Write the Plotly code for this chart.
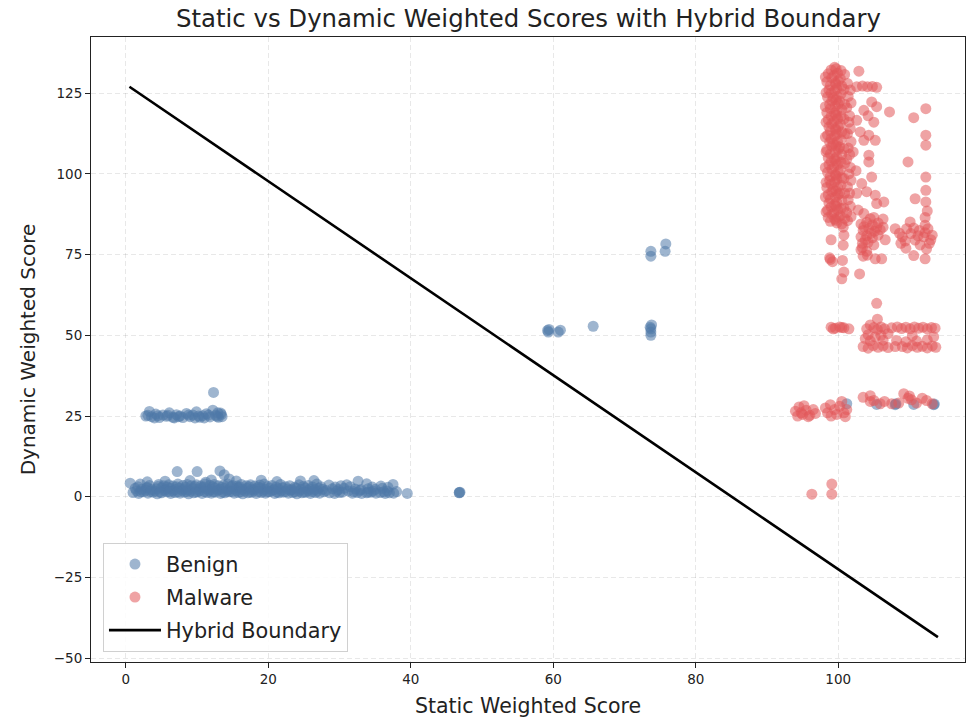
import plotly.graph_objects as go

# ---------------- data ----------------
benign_low = [
    (1.0,1.3),(1.8,1.0),(2.5,1.5),(3.1,1.1),(3.8,1.4),(4.4,0.9),(5.0,1.2),(5.7,1.5),(6.3,1.0),(6.9,1.3),
    (7.6,1.1),(8.2,1.4),(8.8,0.9),(9.5,1.2),(10.1,1.5),(10.7,1.0),(11.4,1.3),(12.0,1.1),(12.6,1.4),(13.3,1.0),
    (13.9,1.2),(14.5,1.5),(15.2,1.1),(15.8,1.3),(16.4,0.9),(17.1,1.2),(17.7,1.4),(18.3,1.0),(19.0,1.3),(19.6,1.1),
    (20.2,1.5),(20.9,1.0),(21.5,1.2),(22.1,1.4),(22.8,1.1),(23.4,1.3),(24.0,0.9),(24.7,1.2),(25.3,1.4),(25.9,1.0),
    (26.6,1.3),(27.2,1.1),(28.6,1.2),(29.3,1.0),(30.0,1.3),(31.8,1.1),(32.5,1.3),(33.1,1.0),(33.8,1.2),(34.4,1.4),
    (35.1,1.1),(35.7,1.3),(36.4,1.0),(37.0,1.2),(37.6,1.1),(39.5,1.0),(46.8,1.3),(46.8,1.2),(46.9,1.4),
    (1.3,2.6),(2.2,2.3),(2.9,2.7),(3.6,2.2),(4.3,2.5),(5.0,2.8),(5.6,2.3),(6.2,2.6),(6.9,2.2),(7.5,2.7),
    (8.1,2.4),(8.7,2.1),(9.4,2.6),(10.0,2.3),(10.6,2.8),(11.3,2.4),(11.9,2.2),(12.5,2.7),(13.2,2.3),(13.8,2.6),
    (14.4,2.2),(15.1,2.5),(15.7,2.8),(16.3,2.3),(17.0,2.6),(17.6,2.2),(18.2,2.5),(18.9,2.7),(19.5,2.3),(20.1,2.6),
    (20.8,2.2),(21.4,2.5),(22.0,2.8),(22.7,2.4),(23.3,2.2),(23.9,2.6),(24.6,2.3),(25.2,2.7),(25.8,2.4),(26.5,2.2),
    (27.1,2.6),(27.6,2.3),(29.0,2.5),(29.8,2.2),(30.6,2.6),(32.2,2.4),(33.0,2.2),(34.0,2.5),(35.0,2.3),(36.0,2.6),
    (0.6,4.2),(2.0,3.9),(3.3,3.5),(4.6,3.8),(5.3,3.4),(6.0,3.7),(6.6,3.3),(7.3,3.9),(8.0,3.5),(8.6,3.8),
    (9.2,3.4),(9.9,3.7),(10.5,3.3),(11.1,3.9),(11.8,3.5),(12.4,3.8),(13.0,3.4),(13.7,3.6),(14.3,3.9),(15.0,3.5),
    (15.6,3.3),(16.2,3.8),(16.9,3.4),(17.5,3.7),(18.1,3.3),(18.8,3.6),(19.4,3.9),(20.5,3.5),(21.7,3.8),(23.0,3.4),
    (24.3,3.7),(25.6,3.5),(26.8,3.9),(28.5,3.6),(30.2,3.4),(31.0,3.7),(33.8,4.0),(37.5,3.8),(35.8,3.3),
    (3.0,4.6),(5.5,4.8),(7.2,7.8),(10.0,7.8),(13.2,8.0),(13.8,6.8),(9.0,5.0),(12.0,5.2),(15.5,4.9),(19.0,5.1),
    (21.2,4.7),(24.5,4.9),(26.4,5.0),(32.6,4.8),(14.5,5.5),(11.2,4.5),
    (1.5,1.8),(2.8,2.0),(4.1,1.7),(5.4,1.9),(6.6,1.8),(7.9,2.0),(9.1,1.7),(10.4,1.9),(11.7,1.8),(12.9,2.0),
    (14.2,1.7),(15.5,1.9),(16.7,1.8),(18.0,2.0),(19.3,1.7),(20.5,1.9),(21.8,1.8),(23.1,2.0),(24.3,1.7),(25.6,1.9),
    (26.9,1.8),(28.1,1.9),(29.6,1.7),(31.2,1.8),(32.8,1.9),(34.7,1.7),(36.7,1.8),(38.0,1.6),
    (1.7,3.1),(3.0,2.9),(4.5,3.2),(5.8,3.0),(7.1,3.1),(8.4,2.9),(9.7,3.2),(11.0,3.0),(12.2,3.1),(13.5,2.9),
    (14.8,3.2),(16.0,3.0),(17.3,3.1),(18.6,2.9),(19.9,3.2),(21.1,3.0),(22.4,3.1),(23.7,2.9),(24.9,3.2),(26.2,3.0),
    (27.4,3.1),(29.4,3.0),(31.5,3.1),(34.6,3.0),(36.8,2.9),
    (2.1,1.5),(3.5,1.6),(4.8,1.4),(6.1,1.6),(7.3,1.5),(8.5,1.6),(9.8,1.4),(11.0,1.6),(12.3,1.5),(13.6,1.4),
    (14.9,1.6),(16.1,1.5),(17.4,1.4),(18.6,1.6),(19.9,1.5),(21.2,1.4),(22.4,1.6),(23.7,1.5),(25.0,1.4),(26.2,1.6),
    (27.8,1.5),(30.4,1.4),(32.0,1.6),(34.0,1.4),(36.2,1.5),
]
benign_band25 = [
    (2.8,25.0),(3.3,26.4),(3.6,24.8),(4.2,25.6),(4.7,24.5),(5.2,25.3),(5.7,24.9),(6.1,26.0),(6.6,24.6),(7.1,25.4),
    (7.6,25.0),(8.0,24.5),(8.5,25.8),(9.0,24.8),(9.4,25.3),(9.9,26.3),(10.4,24.6),(10.8,25.1),(11.3,25.7),(11.8,24.7),
    (12.2,26.8),(12.6,25.2),(13.0,24.6),(13.4,25.5),(13.5,24.8),(12.9,26.0),(12.3,32.3),(4.0,24.4),(6.8,24.4),
    (9.7,24.4),(11.0,24.4),(3.1,25.2),(4.5,25.1),(5.9,25.2),(7.4,24.8),(8.8,25.3),(10.2,25.0),(11.6,25.3),
    (12.8,24.9),(13.3,25.9),
]
benign_mid = [
    (59.2,51.5),(59.3,51.0),(59.4,51.8),(60.7,51.0),(61.0,51.6),(65.6,52.8),(73.7,50.0),(73.7,51.0),(73.7,52.0),
    (73.8,53.2),(73.6,52.5),(73.7,74.5),(73.7,76.0),(75.7,76.0),(75.8,78.3),
]
benign_right = [
    (101.2,28.8),(105.4,28.6),(108.0,28.5),(108.1,28.8),(110.6,28.6),(113.4,28.5),(113.5,28.7),
]

malware_column = [
    (98.6,131.0),(98.4,128.5),(98.7,126.0),(98.5,123.8),(98.8,121.5),(98.4,119.0),(98.6,116.8),(98.7,114.5),
    (98.5,112.0),(98.8,109.8),(98.4,107.5),(98.6,105.0),(98.7,102.8),(98.5,100.5),(98.8,98.0),(98.4,95.8),
    (98.6,93.5),(98.7,91.0),(98.5,88.8),(98.6,86.5),
    (99.5,133.0),(99.4,130.5),(99.6,128.2),(99.5,125.8),(99.3,123.5),(99.6,121.0),(99.5,118.8),(99.4,116.3),
    (99.6,114.0),(99.5,111.8),(99.3,109.3),(99.6,107.0),(99.5,104.6),(99.4,102.3),(99.6,99.8),(99.5,97.5),
    (99.3,95.2),(99.6,92.8),(99.5,90.5),(99.4,88.0),(99.5,86.0),
    (100.4,132.0),(100.3,129.5),(100.5,127.2),(100.4,124.8),(100.2,122.5),(100.5,120.0),(100.4,117.8),(100.3,115.4),
    (100.5,113.0),(100.4,110.6),(100.2,108.3),(100.5,106.0),(100.4,103.6),(100.3,101.2),(100.5,98.8),(100.4,96.5),
    (100.2,94.0),(100.5,91.8),(100.4,89.3),(100.3,87.0),(100.5,84.5),
    (101.3,128.0),(101.4,124.0),(101.2,120.5),(101.5,116.0),(101.3,112.5),(101.4,108.0),(101.2,104.5),
    (101.5,100.0),(101.3,96.0),(101.4,92.0),(101.2,88.0),(101.3,85.5),
    (99.0,132.2),(99.1,129.8),(98.9,127.4),(99.0,125.0),(99.1,122.6),(98.9,120.2),(99.0,117.9),(99.1,115.6),
    (98.9,113.2),(99.0,110.9),(99.1,108.6),(98.9,106.2),(99.0,103.9),(99.1,101.5),(98.9,99.2),(99.0,96.8),
    (99.1,94.5),(98.9,92.2),(99.0,89.8),(99.1,87.5),(98.9,85.3),
    (99.9,131.2),(100.0,128.8),(99.8,126.5),(99.9,124.0),(100.0,121.7),(99.8,119.4),(99.9,117.0),(100.0,114.7),
    (99.8,112.3),(99.9,110.0),(100.0,107.6),(99.8,105.3),(99.9,102.9),(100.0,100.6),(99.8,98.3),(99.9,95.9),
    (100.0,93.6),(99.8,91.2),(99.9,88.9),(100.0,86.6),(99.8,84.8),
    (101.7,126.0),(101.8,122.0),(101.6,118.0),(101.7,114.0),(101.8,110.0),(101.6,106.0),(101.7,102.0),
    (101.8,98.0),(101.6,94.0),(101.7,90.0),(101.8,86.8),
    (98.2,130.0),(98.3,125.2),(98.2,120.8),(98.3,116.0),(98.2,111.4),(98.3,106.8),(98.2,102.0),(98.3,97.4),
    (98.2,92.8),(98.3,88.2),
    (100.9,130.8),(100.8,126.2),(100.9,121.6),(100.8,117.0),(100.9,112.4),(100.8,107.8),(100.9,103.2),
    (100.8,98.6),(100.9,94.0),(100.8,89.4),(100.9,86.2),
    (99.7,132.6),(99.7,127.8),(99.7,123.0),(99.7,118.2),(99.7,113.5),(99.7,108.8),(99.7,104.0),(99.7,99.4),
    (99.7,94.7),(99.7,90.0),(99.7,85.6),
    (99.0,79.6),(98.9,73.5),(99.2,72.8),(98.8,74.0),
    (100.7,83.5),(100.8,81.0),(100.7,77.9),(100.6,73.2),(100.8,69.6),(100.5,67.5),(103.0,69.0),
]
malware_scatter = [
    (102.9,131.8),(102.6,127.0),(103.4,127.2),(104.1,127.0),(104.8,127.1),(105.4,126.8),(104.7,122.3),
    (103.6,119.7),(105.4,120.8),(103.1,113.0),(104.3,112.0),(105.2,110.4),(103.6,110.4),(102.6,116.6),
    (104.2,118.0),(102.1,106.8),(104.3,105.8),(104.3,103.7),(104.7,99.0),(105.0,116.0),(102.5,101.0),
    (103.3,97.0),(102.6,94.0),(104.0,94.5),(105.2,93.4),(106.4,91.3),(105.4,90.8),(103.6,87.7),(102.8,88.8),
    (104.5,86.1),(107.2,119.2),(110.6,117.4),(112.3,120.2),(112.3,112.0),(112.3,108.9),(109.8,103.7),
    (112.3,99.0),(112.3,94.9),(110.8,92.3),(112.3,91.3),(112.5,88.5),(112.2,86.5),
]
malware_clusters = [
    (103.2,84.5),(104.0,85.0),(104.8,84.2),(105.6,84.8),(103.5,82.5),(104.3,83.0),(105.1,82.2),(105.9,82.7),
    (103.2,80.5),(104.0,80.8),(104.8,80.2),(105.6,81.0),(103.4,78.5),(104.2,78.8),(105.0,78.0),(103.2,76.5),
    (104.0,76.0),(103.5,74.5),(104.1,74.8),(105.2,73.7),(106.1,73.7),(106.3,83.5),(106.6,79.6),(105.0,86.5),
    (106.3,86.0),(103.6,83.6),(104.6,81.6),(105.4,83.4),(103.8,79.5),(103.4,77.2),
    (108.0,83.0),(109.0,80.5),(109.6,83.0),(110.1,85.1),(110.2,81.5),(110.8,79.5),(111.4,82.5),(112.0,80.5),
    (112.6,83.0),(113.2,81.0),(108.8,78.5),(111.5,78.0),(112.8,78.5),(109.5,77.0),(110.6,74.7),(112.2,73.7),
    (112.2,84.1),(112.4,76.8),(108.6,81.6),(109.4,79.2),(110.6,83.2),(111.2,80.8),(112.2,81.8),(113.0,79.6),
]
malware_50 = [
    (99.0,52.5),(99.6,52.2),(100.2,52.6),(100.8,52.3),(101.5,52.0),(99.3,52.0),(100.5,52.4),
    (104.0,52.0),(104.5,53.2),(105.0,52.4),(105.5,51.8),(106.0,52.6),(106.5,52.0),(107.5,52.3),(108.3,52.6),
    (108.9,52.1),(109.5,52.5),(110.1,52.0),(110.7,52.6),(111.3,52.2),(111.9,52.5),(112.5,52.0),(113.1,52.4),
    (113.6,52.2),(105.5,55.0),
    (103.8,49.0),(104.5,48.3),(105.2,49.5),(106.3,48.5),(108.2,48.4),(107.0,50.5),(109.5,48.0),(110.4,49.8),
    (111.0,48.2),(112.5,48.6),(113.4,49.5),(104.2,50.2),(106.0,50.0),
    (103.5,46.5),(104.2,46.0),(104.9,46.8),(105.6,46.3),(106.3,46.7),(107.0,46.2),(109.0,46.5),(109.7,46.1),
    (110.4,46.8),(111.1,46.3),(111.8,46.6),(112.5,46.1),(113.2,46.7),(113.7,46.3),(108.0,46.5),
    (105.4,59.9),
]
malware_25 = [
    (94.0,26.5),(94.5,27.8),(95.0,25.5),(95.5,26.8),(96.0,25.2),(96.5,27.0),(94.3,25.0),(95.2,28.2),(96.8,25.8),
    (95.8,24.8),(94.8,26.0),
    (98.2,27.5),(98.9,28.5),(99.5,27.0),(100.2,28.0),(100.8,26.0),(101.0,24.8),(99.8,25.5),(98.5,26.0),
    (100.5,29.5),(99.0,25.0),(101.2,27.0),
    (103.5,30.8),(104.5,31.3),(104.5,29.5),(105.0,29.8),(105.9,28.8),(106.5,29.5),(107.5,28.8),(108.5,29.0),
    (109.2,31.9),(109.8,30.5),(110.3,30.0),(111.0,29.0),(111.8,30.5),(112.4,29.8),(113.2,28.8),(110.0,31.2),
    (96.3,0.8),(99.1,3.9),(99.1,0.8),
]

boundary_x = [0.5, 114.0]
boundary_y = [127.0, -43.5]

benign = benign_low + benign_band25 + benign_mid + benign_right
malware = malware_column + malware_scatter + malware_clusters + malware_50 + malware_25

BLUE = "#4E79A7"
RED = "#E15759"
FONT = "DejaVu Sans"

fig = go.Figure()
fig.add_trace(go.Scatter(
    x=[p[0] for p in benign], y=[p[1] for p in benign], mode="markers", name="Benign",
    legendgroup="b", marker=dict(color=BLUE, size=11, opacity=0.55, line=dict(width=0)),
))
fig.add_trace(go.Scatter(
    x=[p[0] for p in malware], y=[p[1] for p in malware], mode="markers", name="Malware",
    legendgroup="m", marker=dict(color=RED, size=11, opacity=0.55, line=dict(width=0)),
))
fig.add_trace(go.Scatter(
    x=boundary_x, y=boundary_y, mode="lines", name="Hybrid Boundary",
    legendgroup="h", line=dict(color="black", width=2.6),
))

axis_common = dict(
    showline=True, linecolor="#222", linewidth=1, mirror=True,
    ticks="outside", ticklen=5, tickcolor="#222", tickwidth=1,
    showgrid=True, gridcolor="rgba(0,0,0,0.09)", griddash="5px,3px", gridwidth=1,
    zeroline=False, tickfont=dict(family=FONT, size=13.5, color="#222"),
)

fig.update_layout(
    width=967, height=728,
    margin=dict(l=91, r=2, t=37, b=66),
    plot_bgcolor="white", paper_bgcolor="white",
    font=dict(family=FONT, color="#222"),
    title=dict(text="Static vs Dynamic Weighted Scores with Hybrid Boundary",
               x=0.5465, xanchor="center", y=0.975, yanchor="middle",
               font=dict(family=FONT, size=24.4, color="#222")),
    xaxis=dict(range=[-4.9, 117.8], dtick=20, tick0=0,
               title=dict(text="Static Weighted Score", font=dict(family=FONT, size=20.5), standoff=12),
               **axis_common),
    yaxis=dict(range=[-51.2, 142.4], dtick=25, tick0=0,
               title=dict(text="Dynamic Weighted Score", font=dict(family=FONT, size=20), standoff=12),
               **axis_common),
    legend=dict(x=0.0137, y=0.016, xanchor="left", yanchor="bottom",
                bgcolor="rgba(255,255,255,0.85)", bordercolor="#d0d0d0", borderwidth=1,
                font=dict(family=FONT, size=20.8, color="#222"),
                itemwidth=52, tracegroupgap=3),
    showlegend=True,
)

fig.write_html("out.html")
